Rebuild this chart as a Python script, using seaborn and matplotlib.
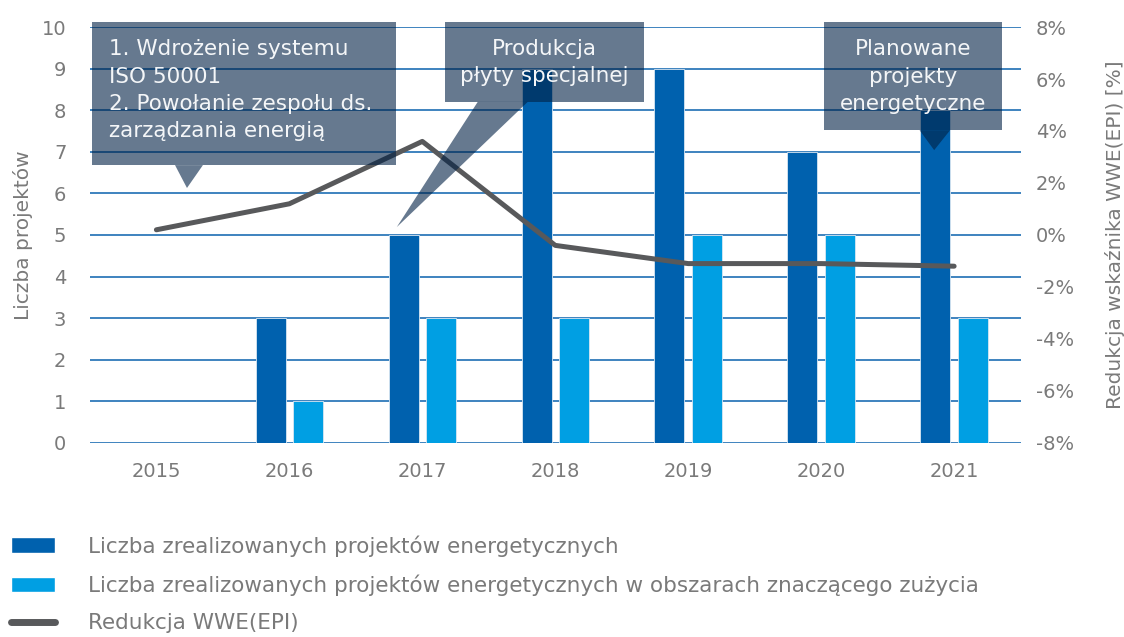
import numpy as np
import pandas as pd
import matplotlib
matplotlib.use("Agg")
import matplotlib.pyplot as plt
from matplotlib.patches import Polygon
from matplotlib.lines import Line2D
from matplotlib.patches import Patch
from matplotlib.ticker import FuncFormatter
import seaborn as sns

# data
years = ["2015", "2016", "2017", "2018", "2019", "2020", "2021"]
projects_all = [0, 3, 5, 9, 9, 7, 8]
projects_significant = [0, 1, 3, 3, 5, 5, 3]
epi_reduction = [0.2, 1.2, 3.6, -0.4, -1.1, -1.1, -1.2]

label_all = "Liczba zrealizowanych projektów energetycznych"
label_sig = "Liczba zrealizowanych projektów energetycznych w obszarach znaczącego zużycia"
label_line = "Redukcja WWE(EPI)"

dark_blue = "#0061ae"
light_blue = "#009fe3"
line_gray = "#58595b"
text_gray = "#7a7a7a"
grid_blue = "#0a62ad"
box_color = "#002044"

sns.set_theme(style="white")
plt.rcParams["font.family"] = ["DejaVu Sans"]

df = pd.DataFrame({
    "year": years * 2,
    "count": projects_all + projects_significant,
    "series": [label_all] * len(years) + [label_sig] * len(years),
})

fig = plt.figure(figsize=(11.24, 6.37), dpi=100)
ax = fig.add_axes([0.080, 0.3046, 0.828, 0.6530])

sns.barplot(data=df, x="year", y="count", hue="series",
            palette=[dark_blue, light_blue], width=0.564, gap=0.20,
            saturation=1, legend=False, ax=ax, zorder=2,
            edgecolor="#d8e6f2", linewidth=0.6)

ax.set_xlim(-0.5, len(years) - 0.5)
ax.set_ylim(0, 10)
ax.set_yticks(range(0, 11))
ax.yaxis.grid(True, color=grid_blue, lw=1.1, zorder=0)
ax.set_axisbelow(True)
for s in ax.spines.values():
    s.set_visible(False)
ax.tick_params(axis="both", length=0, labelsize=14, labelcolor=text_gray)
ax.tick_params(axis="y", pad=17)
ax.tick_params(axis="x", pad=14)
ax.set_xlabel("")
ax.set_ylabel("Liczba projektów", fontsize=14.5, color=text_gray, labelpad=6)

ax2 = ax.twinx()
sns.lineplot(x=np.arange(len(years)), y=epi_reduction, color=line_gray, lw=3.6,
             ax=ax2, zorder=3)
ax2.set_ylim(-8, 8)
ax2.set_yticks(range(-8, 9, 2))
ax2.yaxis.set_major_formatter(FuncFormatter(lambda v, p: f"{v:.0f}%"))
for s in ax2.spines.values():
    s.set_visible(False)
ax2.tick_params(axis="y", length=0, labelsize=14, labelcolor=text_gray, pad=11)
ax2.set_ylabel("Redukcja wskaźnika WWE(EPI) [%]", fontsize=14.5, color=text_gray,
               labelpad=22)

# callout boxes (left-axis data coordinates)
callouts = [
    dict(box=[(-0.485, 10.12), (1.80, 10.12), (1.80, 6.68), (-0.485, 6.68)],
         tip=[(0.14, 6.68), (0.35, 6.68), (0.23, 6.13)],
         text="1. Wdrożenie systemu\nISO 50001\n2. Powołanie zespołu ds.\nzarządzania energią",
         xy=(-0.36, 8.48), ha="left"),
    dict(box=[(2.17, 10.12), (3.67, 10.12), (3.67, 8.20), (2.17, 8.20)],
         tip=[(2.417, 8.20), (2.793, 8.20), (1.808, 5.19)],
         text="Produkcja\npłyty specjalnej", xy=(2.92, 9.14), ha="center"),
    dict(box=[(5.02, 10.12), (6.36, 10.12), (6.36, 7.52), (5.02, 7.52)],
         tip=[(5.74, 7.52), (5.97, 7.52), (5.85, 7.04)],
         text="Planowane\nprojekty\nenergetyczne", xy=(5.69, 8.81), ha="center"),
]
for c in callouts:
    for pts in (c["box"], c["tip"]):
        ax2.add_patch(Polygon(pts, closed=True, transform=ax.transData,
                              facecolor=box_color, alpha=0.6, lw=0,
                              zorder=5, clip_on=False))
    ax2.text(*c["xy"], c["text"], transform=ax.transData, ha=c["ha"],
             va="center", fontsize=15.5, color="#f4f6f8", linespacing=1.45,
             zorder=6)

handles = [
    Patch(facecolor=dark_blue, label=label_all),
    Patch(facecolor=light_blue, label=label_sig),
    Line2D([0], [0], color=line_gray, lw=5, solid_capstyle="round", label=label_line),
]
leg = fig.legend(handles=handles, loc="upper left", bbox_to_anchor=(0.0, 0.177),
                 frameon=False, fontsize=15.5, handlelength=2.05, handleheight=0.7,
                 handletextpad=1.55, labelspacing=0.82, borderpad=0.3,
                 borderaxespad=0.2)
for t in leg.get_texts():
    t.set_color(text_gray)

fig.savefig("out.png", dpi=100)
